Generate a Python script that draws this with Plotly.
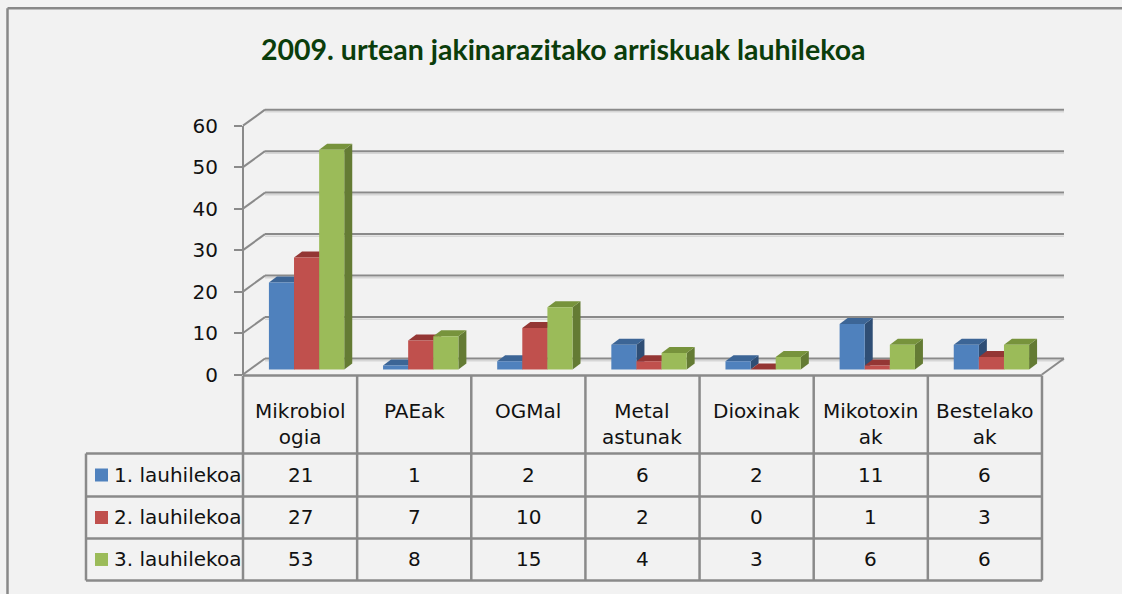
import plotly.graph_objects as go

# ---------------- data ----------------
categories = ["Mikrobiol<br>ogia", "PAEak", "OGMal", "Metal<br>astunak",
              "Dioxinak", "Mikotoxin<br>ak", "Bestelako<br>ak"]
series_names = ["1. lauhilekoa", "2. lauhilekoa", "3. lauhilekoa"]
q1 = [21, 1, 2, 6, 2, 11, 6]
q2 = [27, 7, 10, 2, 0, 1, 3]
q3 = [53, 8, 15, 4, 3, 6, 6]
y_ticks = [0, 10, 20, 30, 40, 50, 60]
title_text = "2009. urtean jakinarazitako arriskuak lauhilekoa"

# ---------------- style ----------------
front_colors = ["#4F81BD", "#C0504D", "#9BBB59"]
top_colors = ["#3C6596", "#943634", "#77933C"]
side_colors = ["#2F4E75", "#7A2D2B", "#647B34"]
grid_color = "#8A8A8A"
text_color = "#111111"
FONT = "DejaVu Sans"

W, H = 1122, 594
V_OFF, V_SCALE = 11.3, 0.96   # observed vertical placement of the page in the capture
def px(x): return x / W
def py(y): return 1 - (y - V_OFF) / (H * V_SCALE)

X0, CW = 243, 114.14      # px of category 0 start, px per category
Y0, YS = 369, 4.15        # px of bar base, px per unit
xr = [-0.05, 7.3]
yr = [-2, 64]
xdom = [px(X0 + xr[0] * CW), px(X0 + xr[1] * CW)]
ydom = [py(Y0 - yr[0] * YS), py(Y0 - yr[1] * YS)]

BACK_DX = 22 / CW
BACK_DY = 11 / YS
FRONT_DY = -5 / YS
DX = 8 / CW
DY = 6 / YS
BAR_W = 0.22
GROUP_SHIFT = 0.057

all_series = [q1, q2, q3]
ncat = len(categories)

fig = go.Figure()
shapes = []

# walls / gridlines (3D look)
for v in y_ticks:
    shapes.append(dict(type="line", xref="x", yref="y", layer="below",
                       x0=0, y0=v + FRONT_DY, x1=BACK_DX, y1=v + BACK_DY,
                       line=dict(color=grid_color, width=2)))
    shapes.append(dict(type="line", xref="x", yref="y", layer="below",
                       x0=BACK_DX, y0=v + BACK_DY - 0.5, x1=ncat + BACK_DX, y1=v + BACK_DY - 0.5,
                       line=dict(color="#D6D6D6", width=1.5)))
    shapes.append(dict(type="line", xref="x", yref="y", layer="below",
                       x0=BACK_DX, y0=v + BACK_DY, x1=ncat + BACK_DX, y1=v + BACK_DY,
                       line=dict(color=grid_color, width=2)))
# floor right edge
shapes.append(dict(type="line", xref="x", yref="y", layer="below",
                   x0=ncat, y0=FRONT_DY, x1=ncat + BACK_DX, y1=BACK_DY,
                   line=dict(color=grid_color, width=2)))

# bars (front via traces, top/side faces via shapes)
for k, vals in enumerate(all_series):
    offset = -1.5 * BAR_W + GROUP_SHIFT + k * BAR_W
    xs = [i + 0.5 for i in range(ncat)]
    fig.add_trace(go.Bar(x=xs, y=vals, width=BAR_W, offset=offset,
                         marker=dict(color=front_colors[k], line=dict(width=0)),
                         name=series_names[k], showlegend=False, hoverinfo="skip"))
    for i, v in enumerate(vals):
        xl = i + 0.5 + offset
        xrr = xl + BAR_W
        shapes.append(dict(type="path", xref="x", yref="y", layer="below",
                           path=f"M {xrr},0 L {xrr},{v} L {xrr+DX},{v+DY} L {xrr+DX},{DY} Z",
                           fillcolor=side_colors[k], line=dict(width=0)))
        shapes.append(dict(type="path", xref="x", yref="y", layer="below",
                           path=f"M {xl},{v} L {xrr},{v} L {xrr+DX},{v+DY} L {xl+DX},{v+DY} Z",
                           fillcolor=top_colors[k], line=dict(width=0)))

# dummy trace so front axis y2 renders
fig.add_trace(go.Scatter(x=[None], y=[None], xaxis="x", yaxis="y2",
                         showlegend=False, hoverinfo="skip"))

# ---------------- data table ----------------
T_TOP, T_HDR, T_R1, T_R2, T_BOT = 375, 453, 496, 538, 580
T_LEFT = 86
col_x = [X0 + i * CW for i in range(ncat + 1)]
tl = dict(color=grid_color, width=2.5)

shapes.append(dict(type="line", xref="paper", yref="paper",
                   x0=px(col_x[0]), x1=px(col_x[-1]), y0=py(T_TOP), y1=py(T_TOP), line=tl))
for yy in [T_HDR, T_R1, T_R2, T_BOT]:
    shapes.append(dict(type="line", xref="paper", yref="paper",
                       x0=px(T_LEFT), x1=px(col_x[-1]), y0=py(yy), y1=py(yy), line=tl))
for cx in col_x:
    shapes.append(dict(type="line", xref="paper", yref="paper",
                       x0=px(cx), x1=px(cx), y0=py(T_TOP), y1=py(T_BOT), line=tl))
shapes.append(dict(type="line", xref="paper", yref="paper",
                   x0=px(T_LEFT), x1=px(T_LEFT), y0=py(T_HDR), y1=py(T_BOT), line=tl))

# outer border (top, left)
shapes.append(dict(type="line", xref="paper", yref="paper",
                   x0=px(7.5), x1=1, y0=py(7.5), y1=py(7.5),
                   line=dict(color="#888888", width=2.5)))
shapes.append(dict(type="line", xref="paper", yref="paper",
                   x0=px(7.5), x1=px(7.5), y0=py(7.5), y1=py(600),
                   line=dict(color="#888888", width=2.5)))

annotations = []
tf = dict(family=FONT, size=20, color=text_color)
for i, cat in enumerate(categories):
    cxm = (col_x[i] + col_x[i + 1]) / 2
    annotations.append(dict(text=cat, x=px(cxm), y=py(396), xref="paper", yref="paper",
                            xanchor="center", yanchor="top", showarrow=False, font=tf))

row_mid = [(T_HDR + T_R1) / 2, (T_R1 + T_R2) / 2, (T_R2 + T_BOT) / 2]
for k, vals in enumerate(all_series):
    ym = row_mid[k]
    shapes.append(dict(type="rect", xref="paper", yref="paper",
                       x0=px(95), x1=px(108), y0=py(ym - 6.5), y1=py(ym + 6.5),
                       fillcolor=front_colors[k], line=dict(width=0)))
    annotations.append(dict(text=series_names[k], x=px(112), y=py(ym), xref="paper", yref="paper",
                            xanchor="left", yanchor="middle", showarrow=False, font=tf))
    for i, v in enumerate(vals):
        cxm = (col_x[i] + col_x[i + 1]) / 2
        annotations.append(dict(text=str(v), x=px(cxm), y=py(ym), xref="paper", yref="paper",
                                xanchor="center", yanchor="middle", showarrow=False, font=tf))

# title
annotations.append(dict(text="<b>" + title_text + "</b>", x=px(563), y=py(48),
                        xref="paper", yref="paper", xanchor="center", yanchor="middle",
                        showarrow=False, font=dict(family="Lato", size=28.5, color="#0B3D0B")))

fig.update_layout(
    width=W, height=H,
    margin=dict(l=0, r=0, t=0, b=0),
    paper_bgcolor="#F2F2F2", plot_bgcolor="rgba(0,0,0,0)",
    barmode="overlay",
    showlegend=False,
    xaxis=dict(domain=xdom, range=xr, visible=False, fixedrange=True),
    yaxis=dict(domain=ydom, range=yr, visible=False, fixedrange=True),
    yaxis2=dict(domain=[py(374), py(125)], range=[0, 60], anchor="free", position=px(X0),
                tickvals=y_ticks, ticktext=[str(t) for t in y_ticks],
                ticks="outside", ticklen=8, tickwidth=2, tickcolor=grid_color,
                showline=True, linecolor=grid_color, linewidth=2, showgrid=False,
                zeroline=False, ticklabelstandoff=12,
                tickfont=dict(family=FONT, size=20, color=text_color), fixedrange=True),
    shapes=shapes,
    annotations=annotations,
)

fig.write_html("out.html", config={"displayModeBar": False},
               post_script="document.body.style.margin='0';document.body.style.overflow='hidden';")
